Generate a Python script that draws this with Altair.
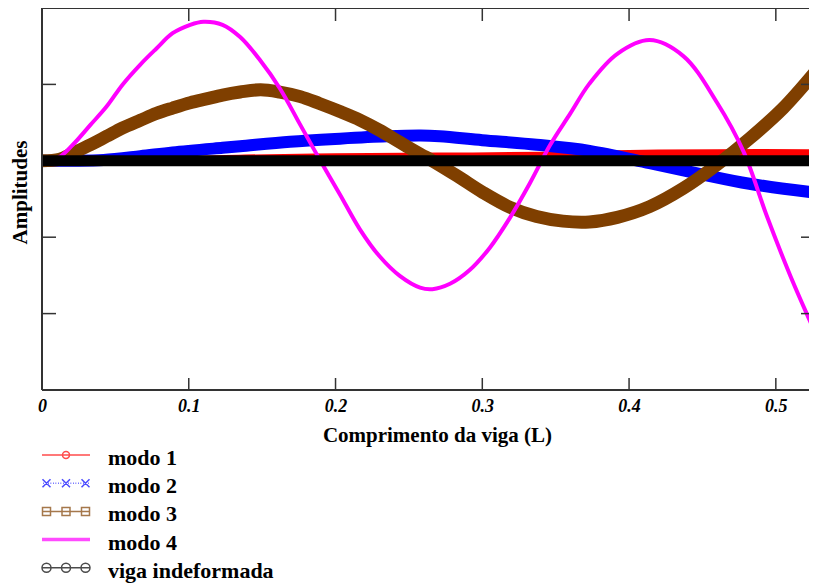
import altair as alt
import pandas as pd

# ---------------- data ----------------
names = ["modo 1", "modo 2", "modo 3", "modo 4", "viga indeformada"]
colors = ["#ff0000", "#0000ff", "#7f3f00", "#ff00ff", "#000000"]

x_modo1 = [0, 0.05, 0.10, 0.138, 0.20, 0.27, 0.34, 0.40, 0.46, 0.528]
y_modo1 = [0, 0.002, 0.008, 0.03, 0.045, 0.055, 0.065, 0.09, 0.10, 0.10]

x_modo2 = [0, 0.021, 0.042, 0.067, 0.089, 0.123, 0.135, 0.169, 0.203, 0.235, 0.258, 0.271, 0.30,
           0.337, 0.373, 0.414, 0.448, 0.482, 0.528]
y_modo2 = [0, 0.0, 0.01, 0.06, 0.11, 0.17, 0.19, 0.25, 0.29, 0.32, 0.33, 0.32, 0.27,
           0.21, 0.13, -0.03, -0.17, -0.30, -0.42]

x_modo3 = [0, 0.012, 0.021, 0.033, 0.044, 0.055, 0.067, 0.078, 0.089, 0.101, 0.112, 0.123, 0.135,
           0.149, 0.162, 0.176, 0.189, 0.203, 0.217, 0.230, 0.244, 0.258, 0.266, 0.283, 0.30, 0.319,
           0.337, 0.355, 0.373, 0.392, 0.414, 0.437, 0.46, 0.482, 0.505, 0.528]
y_modo3 = [0, 0.02, 0.10, 0.21, 0.32, 0.43, 0.53, 0.62, 0.69, 0.76, 0.81, 0.86, 0.90,
           0.93, 0.90, 0.84, 0.75, 0.645, 0.53, 0.40, 0.24, 0.085, 0.0, -0.20, -0.41, -0.61,
           -0.73, -0.79, -0.80, -0.74, -0.60, -0.36, -0.05, 0.29, 0.69, 1.19]

x_modo4 = [0, 0.011, 0.021, 0.033, 0.044, 0.055, 0.067, 0.078, 0.089, 0.101, 0.11, 0.123, 0.135,
           0.1485, 0.162, 0.176, 0.1894, 0.203, 0.2167, 0.230, 0.244, 0.2576, 0.266, 0.278, 0.2914,
           0.305, 0.319, 0.3325, 0.346, 0.36, 0.373, 0.392, 0.414, 0.437, 0.46, 0.478, 0.494, 0.51, 0.528]
y_modo4 = [0, 0.04, 0.21, 0.47, 0.71, 1.0, 1.26, 1.47, 1.67, 1.78, 1.82, 1.78, 1.62,
           1.32, 0.95, 0.47, 0.01, -0.44, -0.90, -1.25, -1.51, -1.66, -1.68, -1.61, -1.43,
           -1.14, -0.74, -0.29, 0.20, 0.62, 1.01, 1.40, 1.58, 1.37, 0.76, 0.12, -0.73, -1.51, -2.30]

x_viga = [0, 0.528]
y_viga = [0, 0]

x_tick_values = [0, 0.1, 0.2, 0.3, 0.4, 0.5]
y_tick_values = [-2, -1, 0, 1]

# ---------------- styling ----------------
widths = [8, 12, 13, 4, 11]
FONT = "Liberation Serif"
W, H = 767, 382
XMAX = 0.5226

series = [(x_modo1, y_modo1), (x_modo2, y_modo2), (x_modo3, y_modo3), (x_modo4, y_modo4), (x_viga, y_viga)]
rows = []
for name, (xs_, ys_) in zip(names, series):
    for i, (a, b) in enumerate(zip(xs_, ys_)):
        rows.append({"serie": name, "x": a, "y": b, "i": i})
df = pd.DataFrame(rows)

xscale = alt.Scale(domain=[0, XMAX], nice=False, zero=False)
yscale = alt.Scale(domain=[-3, 2], nice=False, zero=False)

ax_x = alt.Axis(values=x_tick_values, format=".1~f", ticks=False, domain=False, grid=False,
                labelFont=FONT, labelFontSize=18, labelFontWeight="bold", labelFontStyle="italic",
                labelColor="black", labelPadding=7, labelFlush=False,
                title="Comprimento da viga (L)", titleFont=FONT, titleFontSize=21,
                titleFontWeight="bold", titleColor="black", titlePadding=9, titleX=395)
ax_y = alt.Axis(values=[-3, -2, -1, 0, 1, 2], labels=False, ticks=False, domain=False, grid=False,
                title="Amplitudes", titleFont=FONT, titleFontSize=21, titleFontWeight="bold",
                titleColor="black", titlePadding=12, titleY=184)


def X(field):
    return alt.X(field, type="quantitative", scale=xscale, axis=ax_x)


def Y(field):
    return alt.Y(field, type="quantitative", scale=yscale, axis=ax_y)


layers = []
for name, col, w in zip(names, colors, widths):
    layers.append(
        alt.Chart(df).transform_filter(alt.datum.serie == name)
        .mark_line(color=col, strokeWidth=w, clip=True, interpolate="catmull-rom", strokeCap="butt")
        .encode(x=X("x"), y=Y("y"), order="i:Q")
    )

# frame (left, top, bottom) – the right side lies outside the picture in the reference
one = pd.DataFrame({"k": [0]})
frame_style = dict(color="#333333", strokeWidth=2)
layers.append(alt.Chart(one).mark_rule(**frame_style).encode(x=alt.value(0), y=alt.value(0), y2=alt.value(H)))
layers.append(alt.Chart(one).mark_rule(**frame_style).encode(y=alt.value(0), x=alt.value(0), x2=alt.value(W)))
layers.append(alt.Chart(one).mark_rule(**frame_style).encode(y=alt.value(H), x=alt.value(0), x2=alt.value(W)))

# inward tick marks (positions from the tick value lists, through the scales)
xt = pd.DataFrame({"v": x_tick_values[1:]})
yt = pd.DataFrame({"v": [v for v in y_tick_values if v != 0]})
tick_style = dict(color="#333333", strokeWidth=1.5)
layers.append(alt.Chart(xt).mark_rule(**tick_style).encode(x=X("v"), y=alt.value(H), y2=alt.value(H - 12)))
layers.append(alt.Chart(xt).mark_rule(**tick_style).encode(x=X("v"), y=alt.value(0), y2=alt.value(13)))
layers.append(alt.Chart(yt).mark_rule(**tick_style).encode(y=Y("v"), x=alt.value(0), x2=alt.value(14)))
layers.append(alt.Chart(yt).mark_rule(**tick_style).encode(y=Y("v"), x=alt.value(W), x2=alt.value(W - 8)))


# legend symbols: custom paths (unit = 5px)
def circle(cx, cy, r):
    return f"M{cx + r},{cy}A{r},{r},0,1,1,{cx - r},{cy}A{r},{r},0,1,1,{cx + r},{cy}"


def square(cx, cy, h):
    return f"M{cx - h},{cy - h}L{cx + h},{cy - h}L{cx + h},{cy + h}L{cx - h},{cy + h}Z"


def xmark(cx, cy, h):
    return f"M{cx - h},{cy - h}L{cx + h},{cy + h}M{cx - h},{cy + h}L{cx + h},{cy - h}"


dy = -0.6
p1 = f"M-4.8,{dy}L4.8,{dy}" + circle(0, dy, 0.7)
dots = "".join(f"M{-4.6 + k * 0.5:.2f},{dy}L{-4.45 + k * 0.5:.2f},{dy}" for k in range(19))
p2 = dots + xmark(-3.9, dy, 0.8) + xmark(0, dy, 0.8) + xmark(3.9, dy, 0.8)
p3 = f"M-4.7,{dy}L4.7,{dy}" + square(-3.9, dy, 0.8) + square(0, dy, 0.8) + square(3.9, dy, 0.8)
p4 = "".join(f"M-4.8,{dy + o:.2f}L4.8,{dy + o:.2f}" for o in (-0.2, 0, 0.2))
p5 = f"M-4.8,{dy}L4.8,{dy}" + circle(-3.9, dy, 0.9) + circle(0, dy, 0.9) + circle(3.9, dy, 0.9)
paths = [p1, p2, p3, p4, p5]

leg = alt.Legend(title=None, orient="none", legendX=-2, legendY=439, padding=0,
                 symbolOffset=15, labelOffset=31, labelFont=FONT, labelFontWeight="bold",
                 labelFontSize=22, labelColor="black", labelLimit=0, rowPadding=6.2,
                 symbolSize=100, symbolStrokeWidth=1.5, symbolFillColor="transparent")

leg_df = pd.DataFrame({"serie": names, "x": [-1.0] * 5, "y": [0.0] * 5})
layers.append(
    alt.Chart(leg_df).mark_point(filled=False, clip=True, size=100, strokeWidth=1.5)
    .encode(x=X("x"), y=Y("y"),
            color=alt.Color("serie:N", scale=alt.Scale(domain=names, range=colors), legend=leg),
            shape=alt.Shape("serie:N", scale=alt.Scale(domain=names, range=paths), legend=leg))
)

chart = alt.layer(*layers).properties(
    width=W, height=H,
    autosize=alt.AutoSizeParams(type="none"),
    padding={"left": 34, "top": 0, "right": 0, "bottom": 196},
).configure_view(stroke="transparent", strokeWidth=0).configure(background="white")

chart.save("out.html", embed_options={"renderer": "svg", "actions": False})
